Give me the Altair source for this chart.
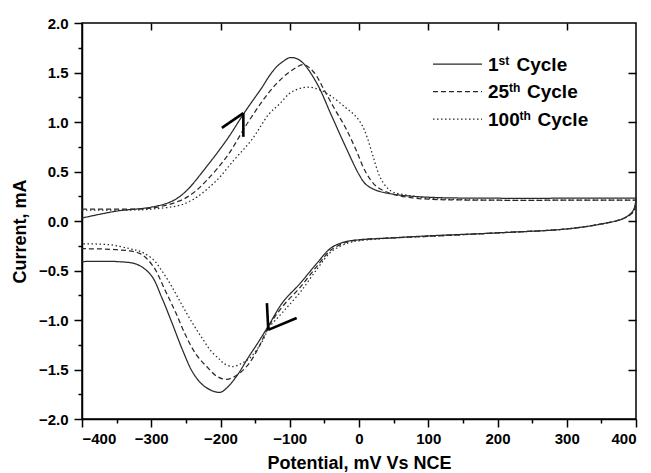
import altair as alt
import pandas as pd

# ---- data (E in mV, I in mA) ----
cycles = ["1st Cycle", "25th Cycle", "100th Cycle"]

# 1st cycle: anodic (forward) branch then cathodic (reverse) branch
c1_fwd_E = [-400, -350, -300, -270, -250, -220, -190, -165, -140, -130, -120, -110, -100, -90, -80, -60, -40, -20, 0, 10, 25, 50, 100, 200, 300, 400]
c1_fwd_I = [0.03, 0.10, 0.14, 0.20, 0.30, 0.55, 0.83, 1.10, 1.35, 1.46, 1.55, 1.61, 1.65, 1.64, 1.59, 1.38, 1.07, 0.76, 0.47, 0.37, 0.31, 0.27, 0.24, 0.23, 0.23, 0.23]
c1_rev_E = [400, 398, 393, 380, 350, 300, 200, 100, 50, 0, -20, -40, -60, -85, -110, -130, -145, -160, -175, -190, -200, -210, -225, -240, -255, -270, -285, -300, -320, -350, -400]
c1_rev_I = [0.23, 0.14, 0.08, 0.02, -0.03, -0.08, -0.12, -0.15, -0.17, -0.19, -0.21, -0.27, -0.42, -0.63, -0.82, -1.05, -1.22, -1.38, -1.55, -1.68, -1.73, -1.72, -1.66, -1.53, -1.30, -1.03, -0.77, -0.55, -0.44, -0.41, -0.41]

# 25th cycle
c25_fwd_E = [-400, -350, -300, -260, -240, -220, -190, -160, -130, -110, -95, -80, -65, -50, -35, -20, -5, 10, 25, 45, 70, 100, 200, 300, 400]
c25_fwd_I = [0.12, 0.12, 0.13, 0.20, 0.28, 0.41, 0.66, 1.00, 1.30, 1.45, 1.53, 1.58, 1.50, 1.32, 1.13, 0.95, 0.73, 0.49, 0.35, 0.28, 0.24, 0.22, 0.21, 0.21, 0.21]
c25_rev_E = [400, 398, 393, 380, 350, 300, 200, 100, 50, 0, -20, -40, -60, -85, -110, -130, -145, -160, -175, -191, -205, -220, -235, -250, -265, -280, -297, -316, -350, -400]
c25_rev_I = [0.21, 0.12, 0.07, 0.02, -0.03, -0.08, -0.12, -0.155, -0.17, -0.19, -0.22, -0.29, -0.45, -0.67, -0.86, -1.06, -1.28, -1.45, -1.55, -1.60, -1.57, -1.47, -1.35, -1.16, -0.92, -0.70, -0.46, -0.33, -0.29, -0.28]

# 100th cycle
c100_fwd_E = [-400, -350, -300, -250, -210, -180, -155, -130, -115, -100, -85, -70, -55, -40, -20, -5, 5, 12, 20, 30, 40, 50, 70, 100, 200, 300, 400]
c100_fwd_I = [0.11, 0.11, 0.12, 0.18, 0.38, 0.62, 0.82, 1.08, 1.18, 1.29, 1.34, 1.35, 1.32, 1.26, 1.15, 1.06, 0.96, 0.84, 0.66, 0.45, 0.34, 0.29, 0.26, 0.23, 0.21, 0.21, 0.21]
c100_rev_E = [400, 398, 393, 380, 350, 300, 200, 100, 50, 0, -15, -40, -60, -85, -110, -130, -140, -157, -170, -182, -195, -201, -213, -225, -237, -249, -261, -273, -285, -297, -315, -331, -360, -400]
c100_rev_I = [0.21, 0.12, 0.07, 0.02, -0.03, -0.08, -0.12, -0.155, -0.17, -0.20, -0.22, -0.31, -0.48, -0.72, -0.92, -1.08, -1.22, -1.38, -1.44, -1.47, -1.44, -1.40, -1.32, -1.20, -1.07, -0.93, -0.78, -0.63, -0.50, -0.39, -0.31, -0.28, -0.24, -0.23]

# direction arrows: tip and two arm ends
arrow_tip_E = [-167, -167, -131, -131]
arrow_tip_I = [1.09, 1.09, -1.10, -1.10]
arrow_end_E = [-198, -167, -133, -90]
arrow_end_I = [0.94, 0.85, -0.83, -0.98]

legend_num = ["1", "25", "100"]
legend_sup = ["st", "th", "th"]
legend_word = ["Cycle", "Cycle", "Cycle"]

x_major = list(range(-400, 401, 100))
x_all = list(range(-400, 401, 50))
y_all = [v / 4 for v in range(-8, 9)]
y_major = [v / 2 for v in range(-4, 5)]

# ---- tables ----
rows = []
for name, fe, fi, re_, ri in [
    (cycles[0], c1_fwd_E, c1_fwd_I, c1_rev_E, c1_rev_I),
    (cycles[1], c25_fwd_E, c25_fwd_I, c25_rev_E, c25_rev_I),
    (cycles[2], c100_fwd_E, c100_fwd_I, c100_rev_E, c100_rev_I),
]:
    for k, (e, i) in enumerate(zip(fe + re_, fi + ri)):
        rows.append({"cycle": name, "E": e, "I": i, "k": k})
df = pd.DataFrame(rows)

arrows = pd.DataFrame({"E": arrow_tip_E, "I": arrow_tip_I, "E2": arrow_end_E, "I2": arrow_end_I})

FONT = "Liberation Sans"
xs = alt.Scale(domain=[-400, 400], nice=False, zero=False)
ys = alt.Scale(domain=[-2, 2], nice=False, zero=False)
dash_scale = alt.Scale(domain=cycles, range=[[1, 0], [5, 3], [1.5, 2.5]])

axis_common = dict(
    labelFont=FONT, labelFontWeight="bold", labelFontSize=15, labelColor="black",
    titleFont=FONT, titleFontWeight="bold", titleFontSize=18, titleColor="black",
    domainColor="black", domainWidth=1.5, tickColor="black", tickWidth=1.5, grid=False,
)

lines = alt.Chart(df).mark_line(color="#2a2a2a", strokeWidth=1.25, interpolate="catmull-rom").encode(
    x=alt.X("E:Q", scale=xs, axis=alt.Axis(
        values=x_all, format="d",
        labelExpr="datum.value % 100 == 0 ? datum.label : ''",
        tickSize={"condition": {"test": "datum.value % 100 != 0", "value": 4}, "value": 8},
        labelPadding=4, titlePadding=8.5, title="Potential, mV Vs NCE", **axis_common)),
    y=alt.Y("I:Q", scale=ys, axis=alt.Axis(
        values=y_all,
        labelExpr="abs(datum.value*2 - round(datum.value*2)) < 0.001 ? format(datum.value, '.1f') : ''",
        tickSize={"condition": {"test": "abs(datum.value*2 - round(datum.value*2)) > 0.001", "value": 4}, "value": 8},
        labelPadding=6, titlePadding=9, titleY=208, title="Current, mA", **axis_common)),
    strokeDash=alt.StrokeDash("cycle:N", scale=dash_scale, legend=None),
    detail="cycle:N",
    order="k:Q",
)

arrow_layer = alt.Chart(arrows).mark_rule(color="black", strokeWidth=2.6).encode(
    x=alt.X("E:Q", scale=xs, axis=alt.Axis(orient="top", values=x_major[1:-1], labels=False, domain=False,
                                           tickSize=7, offset=-7, title=None, grid=False,
                                           tickColor="black", tickWidth=1.5)),
    y=alt.Y("I:Q", scale=ys, axis=alt.Axis(orient="right", values=y_major[1:-1], labels=False, domain=False,
                                           tickSize=8, offset=-8, title=None, grid=False,
                                           tickColor="black", tickWidth=1.5)),
    x2="E2:Q",
    y2="I2:Q",
)

leg = pd.DataFrame({"cycle": cycles, "num": legend_num, "sup": legend_sup, "word": legend_word, "row": [0, 1, 2]})
leg_base = alt.Chart(leg).transform_calculate(
    ly="41 + datum.row * 27.5",
    ty="47.7 + datum.row * 27.5",
    sy="41.5 + datum.row * 27.5",
    supx="406 + length(datum.num) * 10.5",
    wordx="406 + length(datum.num) * 10.5 + 18",
)
leg_lines = leg_base.mark_rule(color="#2a2a2a", strokeWidth=1.25).encode(
    x=alt.value(351), x2=alt.value(400),
    y=alt.Y("ly:Q", scale=None),
    strokeDash=alt.StrokeDash("cycle:N", scale=dash_scale, legend=None),
)
leg_num = leg_base.mark_text(font=FONT, fontWeight="bold", fontSize=19, align="left", baseline="alphabetic", color="black").encode(
    x=alt.value(406), y=alt.Y("ty:Q", scale=None), text="num:N")
leg_sup = leg_base.mark_text(font=FONT, fontWeight="bold", fontSize=12, align="left", baseline="alphabetic", color="black").encode(
    x=alt.X("supx:Q", scale=None), y=alt.Y("sy:Q", scale=None), text="sup:N")
leg_word = leg_base.mark_text(font=FONT, fontWeight="bold", fontSize=19, align="left", baseline="alphabetic", color="black").encode(
    x=alt.X("wordx:Q", scale=None), y=alt.Y("ty:Q", scale=None), text="word:N")

chart = alt.layer(lines, arrow_layer, leg_lines, leg_num, leg_sup, leg_word).resolve_axis(
    x="independent", y="independent"
).resolve_scale(strokeDash="shared").properties(
    width=554, height=396,
    padding={"left": 82, "top": 23, "right": 15, "bottom": 54},
    autosize="none",
    background="white",
).configure_view(stroke="black", strokeWidth=1.5)

chart.save("out.html", embed_options={"renderer": "svg", "actions": False})
